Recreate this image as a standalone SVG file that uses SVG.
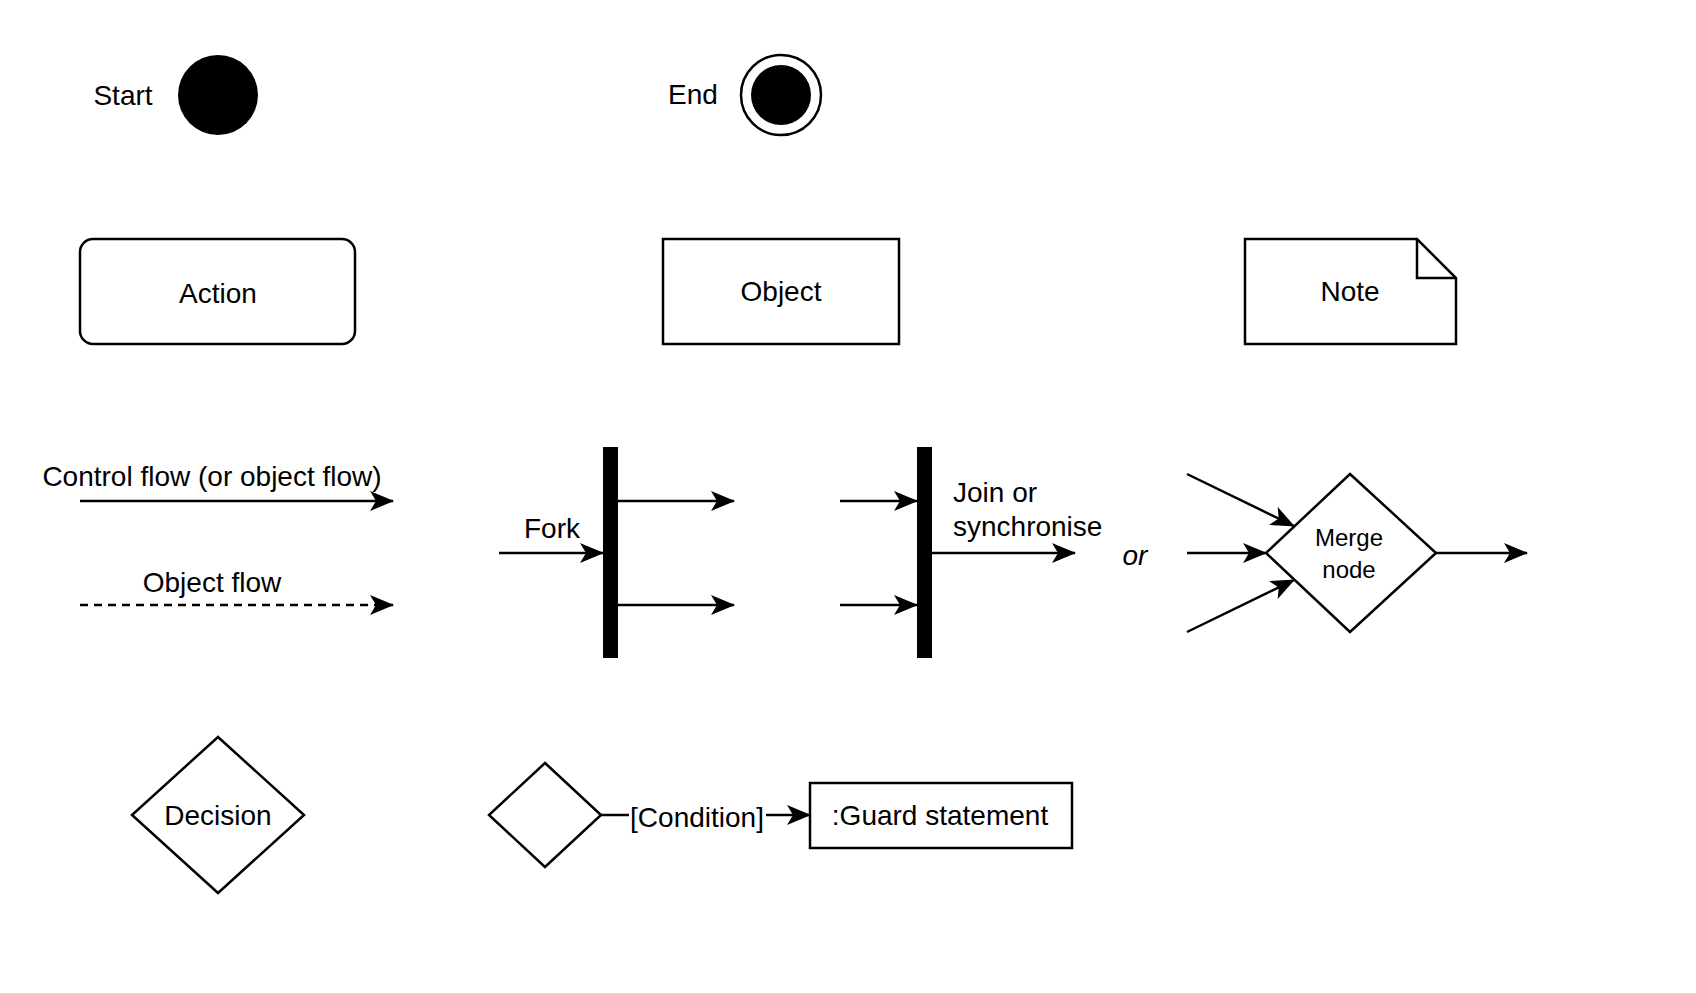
<svg xmlns="http://www.w3.org/2000/svg" width="1696" height="993" viewBox="0 0 1696 993">
<style>
text{font-family:"Liberation Sans",Arial,sans-serif;font-size:28px;fill:#000;text-anchor:middle;dominant-baseline:central}
.s{fill:#fff;stroke:#000;stroke-width:2.5}
.l{stroke:#000;stroke-width:2.5;fill:none}
</style>
<defs>
<marker id="a" viewBox="0 0 24 20" refX="23" refY="10" markerWidth="24" markerHeight="20" markerUnits="userSpaceOnUse" orient="auto">
<path d="M0,0 L24,10 L0,20 L6,10 Z" fill="#000"/>
</marker>
</defs>
<rect width="1696" height="993" fill="#fff"/>
<g id="start"><text x="123" y="95">Start</text><circle cx="218" cy="95" r="40" fill="#000"/></g>
<g id="end"><text x="693" y="94">End</text><circle cx="781" cy="95" r="40" class="s"/><circle cx="781" cy="95" r="30" fill="#000"/></g>
<g id="action"><rect x="80" y="239" width="275" height="105" rx="13" class="s"/><text x="218" y="293">Action</text></g>
<g id="object"><rect x="663" y="239" width="236" height="105" class="s"/><text x="781" y="291">Object</text></g>
<g id="note"><path d="M1245,239 H1417 L1456,278 V344 H1245 Z" class="s"/><path d="M1417,239 V278 H1456" class="l"/><text x="1350" y="291">Note</text></g>
<g id="fork"><rect x="603" y="447" width="15" height="211" fill="#000"/><text x="552" y="528">Fork</text></g>
<g id="join"><rect x="917" y="447" width="15" height="211" fill="#000"/><text x="953" y="492" style="text-anchor:start">Join or</text><text x="953" y="526" style="text-anchor:start">synchronise</text></g>
<g id="or"><text x="1135" y="555" style="font-style:italic">or</text></g>
<g id="merge"><path d="M1350,474 L1436,553 L1350,632 L1266,553 Z" class="s"/><text x="1349" y="537" style="font-size:24px">Merge</text><text x="1349" y="569" style="font-size:24px">node</text></g>
<g id="decision"><path d="M218,737 L304,815 L218,893 L132,815 Z" class="s"/><text x="218" y="815">Decision</text></g>
<g id="decision2"><path d="M545,763 L601,815 L545,867 L489,815 Z" class="s"/></g>
<g id="guard"><rect x="810" y="783" width="262" height="65" class="s"/><text x="940" y="815">:Guard statement</text></g>
<g id="labels"><text x="212" y="476">Control flow (or object flow)</text><text x="212" y="582">Object flow</text></g>
<g id="connectors">
<line x1="80" y1="501" x2="393" y2="501" class="l" marker-end="url(#a)"/>
<line x1="80" y1="605" x2="393" y2="605" class="l" stroke-dasharray="8,6" marker-end="url(#a)"/>
<line x1="499" y1="553" x2="603" y2="553" class="l" marker-end="url(#a)"/>
<line x1="618" y1="501" x2="734" y2="501" class="l" marker-end="url(#a)"/>
<line x1="618" y1="605" x2="734" y2="605" class="l" marker-end="url(#a)"/>
<line x1="840" y1="501" x2="917" y2="501" class="l" marker-end="url(#a)"/>
<line x1="840" y1="605" x2="917" y2="605" class="l" marker-end="url(#a)"/>
<line x1="932" y1="553" x2="1075" y2="553" class="l" marker-end="url(#a)"/>
<line x1="1187" y1="474" x2="1294" y2="526" class="l" marker-end="url(#a)"/>
<line x1="1187" y1="553" x2="1266" y2="553" class="l" marker-end="url(#a)"/>
<line x1="1187" y1="632" x2="1294" y2="580" class="l" marker-end="url(#a)"/>
<line x1="1436" y1="553" x2="1527" y2="553" class="l" marker-end="url(#a)"/>
<line x1="601" y1="815" x2="810" y2="815" class="l" marker-end="url(#a)"/>
<rect x="629" y="800" width="137" height="32" fill="#fff"/>
<text x="697" y="817">[Condition]</text>
</g>
</svg>
